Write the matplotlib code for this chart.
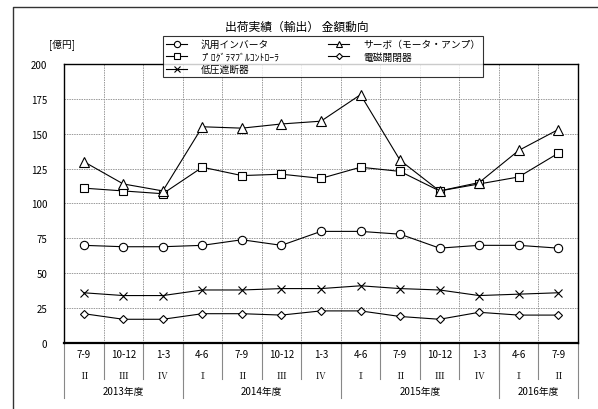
import numpy as np
import matplotlib.pyplot as plt
from matplotlib.lines import Line2D

plt.rcParams['font.family'] = ['Noto Sans CJK JP', 'DejaVu Sans']

months = ["7-9", "10-12", "1-3", "4-6", "7-9", "10-12", "1-3", "4-6", "7-9", "10-12", "1-3", "4-6", "7-9"]
quarters = ["Ⅱ", "Ⅲ", "Ⅳ", "Ⅰ", "Ⅱ", "Ⅲ", "Ⅳ", "Ⅰ", "Ⅱ", "Ⅲ", "Ⅳ", "Ⅰ", "Ⅱ"]
years = ["2013年度", "2014年度", "2015年度", "2016年度"]
year_counts = [3, 4, 4, 2]

inverter = [70, 69, 69, 70, 74, 70, 80, 80, 78, 68, 70, 70, 68]
plc = [111, 109, 107, 126, 120, 121, 118, 126, 123, 109, 114, 119, 136]
breaker = [36, 34, 34, 38, 38, 39, 39, 41, 39, 38, 34, 35, 36]
servo = [130, 114, 109, 155, 154, 157, 159, 178, 131, 109, 115, 138, 153]
switch = [21, 17, 17, 21, 21, 20, 23, 23, 19, 17, 22, 20, 20]

x = np.arange(len(months))

fig = plt.figure(figsize=(5.98, 4.10), dpi=100)
ax = fig.add_axes([0.1070, 0.1610, 0.8595, 0.6805])

line_kw = dict(color='black', lw=0.8, markerfacecolor='white', markeredgecolor='black', markeredgewidth=0.8)
ax.plot(x, inverter, marker='o', ms=6, label="汎用インバータ", **line_kw)
ax.plot(x, plc, marker='s', ms=6, label="ﾌﾟﾛｸﾞﾗﾏﾌﾞﾙｺﾝﾄﾛｰﾗ", **line_kw)
ax.plot(x, breaker, marker='x', ms=5.5, label="低圧遮断器", **line_kw)
ax.plot(x, servo, marker='^', ms=6.5, label="サーボ（モータ・アンプ）", **line_kw)
ax.plot(x, switch, marker='D', ms=4.2, label="電磁開閉器", **line_kw)

ax.set_xlim(-0.5, len(months) - 0.5)
ax.set_ylim(0, 200)
ax.set_yticks(np.arange(0, 201, 25))
ax.tick_params(axis='y', length=0, pad=12, labelsize=7)
ax.set_xticks(np.arange(len(months) + 1) - 0.5)
ax.set_xticklabels([])
ax.tick_params(axis='x', length=0)
ax.grid(True, color='#999999', lw=0.7, linestyle=(0, (1.5, 1)))
for s in ax.spines.values():
    s.set_linewidth(1.0)
ax.spines['bottom'].set_linewidth(1.6)

# table under the axis
tr = ax.get_xaxis_transform()
for i in range(len(months)):
    ax.text(x[i], -0.040, months[i], transform=tr, ha='center', va='center', fontsize=7)
    ax.text(x[i], -0.115, quarters[i], transform=tr, ha='center', va='center', fontsize=7,
            family=['Noto Serif CJK JP', 'DejaVu Serif'])
for b in range(1, len(months)):
    ax.plot([b - 0.5, b - 0.5], [0, -0.129], transform=tr, color='#888888', lw=0.8, clip_on=False)
edges = [0]
for n in year_counts:
    edges.append(edges[-1] + n)
for k, yname in enumerate(years):
    ax.text((edges[k] + edges[k + 1]) / 2 - 0.5, -0.172, yname, transform=tr,
            ha='center', va='center', fontsize=7)
for e in edges:
    ax.plot([e - 0.5, e - 0.5], [0, -0.197], transform=tr, color='#888888', lw=0.8, clip_on=False)

# chart frame and labels
fig.add_artist(Line2D([0.0217, 0.0217, 1.0], [0.0, 0.9805, 0.9805], color='#333333', lw=1.0))
fig.text(0.497, 1 - 27 / 410, "出荷実績（輸出） 金額動向", ha='center', va='center', fontsize=8.5)
fig.text(62 / 598, 1 - 45 / 410, "[億円]", ha='center', va='center', fontsize=7)

leg = fig.legend(loc='lower left', bbox_to_anchor=(163 / 598, 1 - 78 / 410, 320 / 598, 41 / 410),
                 mode='expand', ncol=2, fontsize=7, frameon=True, fancybox=False,
                 edgecolor='black', handlelength=2.2, borderaxespad=0, labelspacing=0.25,
                 borderpad=0.3, handletextpad=1.4, markerscale=0.75, columnspacing=3.0)
leg.get_frame().set_linewidth(0.8)

fig.savefig("out.png", dpi=100)
